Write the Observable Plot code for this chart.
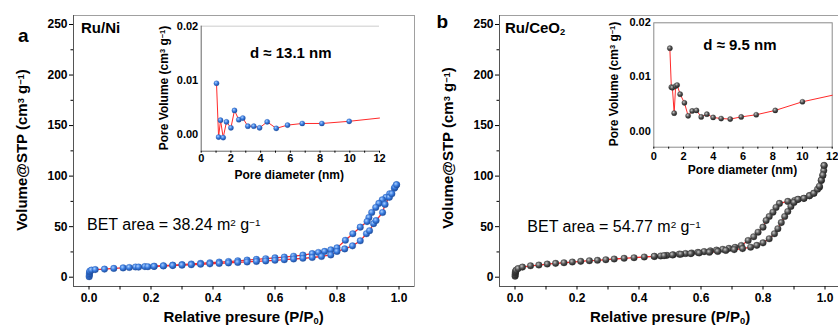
<!DOCTYPE html>
<html><head><meta charset="utf-8">
<script src="https://cdn.jsdelivr.net/npm/d3@7"></script>
<script src="https://cdn.jsdelivr.net/npm/@observablehq/plot@0.6"></script>
<style>
html,body{margin:0;padding:0;background:#fff;overflow:hidden;}
#root{position:relative;width:838px;height:327px;overflow:hidden;background:#fff;font-family:"Liberation Sans",Arial,sans-serif;}
#root > svg{position:absolute;}
</style></head><body><div id="root"></div>
<script>
// ---------- data ----------
const ruNiAdsP = [0.0005,0.001,0.0015,0.002,0.003,0.008,0.02,0.05,0.08,0.11,0.13,0.16,0.19,0.21,0.24,0.27,0.30,0.33,0.36,0.39,0.42,0.45,0.48,0.51,0.54,0.57,0.60,0.63,0.66,0.69,0.72,0.75,0.78,0.80,0.825,0.85,0.875,0.895,0.905,0.918,0.926,0.947,0.955,0.969,0.977,0.987,0.992];
const ruNiAdsV = [0.5,2,3.5,5,6,7,7.5,8,8.7,9.2,9.6,10,10.4,10.7,11.1,11.5,11.9,12.3,12.8,13.2,13.6,14.1,14.6,15.1,15.6,16.1,16.7,17.3,18,18.7,19.5,20.5,22,25.5,28,31,36,43,46,53,56,64,72,79,82.5,89,91.5];
const ruNiDesP = [0.992,0.985,0.97,0.958,0.946,0.935,0.925,0.912,0.903,0.897,0.875,0.851,0.827,0.80,0.78,0.76,0.74,0.72,0.69,0.66,0.63,0.60,0.57,0.54,0.51,0.48,0.45,0.42,0.39,0.36,0.33,0.30,0.27,0.24,0.21,0.18,0.15];
const ruNiDesV = [91.5,88,82.5,79,76.5,73,69,64,59,55,49.5,43,36.5,29,27,25.5,24.5,23.3,21.8,20.8,19.9,19.1,18.3,17.6,16.9,16.2,15.5,14.9,14.3,13.7,13.1,12.5,11.9,11.4,10.9,10.5,10.1];

const ceAdsP = [0.0003,0.0006,0.001,0.0015,0.002,0.004,0.01,0.024,0.05,0.077,0.104,0.131,0.158,0.185,0.212,0.24,0.266,0.293,0.32,0.352,0.384,0.417,0.449,0.481,0.508,0.535,0.567,0.594,0.627,0.654,0.68,0.707,0.734,0.76,0.78,0.80,0.82,0.837,0.848,0.859,0.87,0.88,0.89,0.90,0.913,0.932,0.95,0.964,0.976,0.982,0.988,0.993,0.997];
const ceAdsV = [1,2.5,4,5,6,7,8.5,10,11.3,12,13,13.7,14.3,15,15.7,16.3,16.7,17.3,18,18.7,19.3,20,20.7,21.3,22,22.7,23.3,24,24.7,25.5,26.5,27.3,28.3,29.7,31.5,34,38,43,48,54,60,65,70,74,77,78,80.5,83,87,90,96,101,110.5];
const ceDesP = [0.997,0.996,0.993,0.988,0.982,0.964,0.95,0.932,0.913,0.902,0.88,0.853,0.842,0.832,0.82,0.81,0.80,0.784,0.77,0.752,0.73,0.71,0.69,0.67,0.65,0.63,0.61,0.59,0.57,0.55,0.53,0.51,0.49,0.47,0.45];
const ceDesV = [110.5,105.5,100.6,95.6,89,83,80.8,78,77,75.8,75,73,69,64.3,60,56,49.5,44.5,40,36.3,31.4,29.5,28.5,27.6,26.8,26,25.3,24.6,24,23.4,22.8,22.2,21.6,21,20.5];

const ruNiPoreD = [1.03,1.17,1.3,1.48,1.7,2.0,2.24,2.53,2.8,3.14,3.54,3.93,4.44,5.05,5.81,6.8,8.12,9.96,12];
const ruNiPoreV = [0.0095,-0.0004,0.0027,-0.0005,0.0024,0.0013,0.0045,0.0028,0.0031,0.0016,0.0016,0.0013,0.0024,0.0012,0.0018,0.0021,0.0021,0.0025,0.0031];
const cePoreD = [1.08,1.18,1.25,1.37,1.47,1.57,1.77,2.06,2.31,2.58,2.87,3.19,3.57,3.99,4.53,5.14,5.88,6.89,8.17,10.0,12];
const cePoreV = [0.0153,0.0081,0.0080,0.0033,0.0083,0.0085,0.0068,0.0052,0.0028,0.0037,0.0038,0.0026,0.0031,0.0025,0.0023,0.0022,0.0026,0.0030,0.0038,0.0054,0.0066];

// ticks
const mainXMajor = [0,0.2,0.4,0.6,0.8,1.0];
const mainXMinor = [0.1,0.3,0.5,0.7,0.9];
const mainYMajor = [0,50,100,150,200,250];
const mainYMinor = [25,75,125,175,225];
const insetXMajor = [0,2,4,6,8,10,12];
const insetXMinor = [1,3,5,7,9,11];
const insetYMajor = [0,0.01,0.02];

// ---------- helpers ----------
const FONT = '"Liberation Sans", Arial, sans-serif';
const toRows = (xs, ys) => xs.map((x, i) => ({x, y: ys[i]}));
const root = document.getElementById("root");

// gradient defs (sphere look)
const defsSvg = d3.select(root).append("svg").attr("width", 0).attr("height", 0).style("position","absolute");
const defs = defsSvg.append("defs");
function ball(id, c0, c1, c2) {
  const g = defs.append("radialGradient").attr("id", id).attr("cx","38%").attr("cy","35%").attr("r","65%");
  g.append("stop").attr("offset","0%").attr("stop-color", c0);
  g.append("stop").attr("offset","50%").attr("stop-color", c1);
  g.append("stop").attr("offset","100%").attr("stop-color", c2);
}
ball("blueBall", "#a9d0ff", "#3d7fe3", "#1c4c9c");
ball("grayBall", "#c8c8c8", "#585858", "#222222");

const mainXDomain = [-0.05, 1.05];
const mainYDomain = [-9.2, 258.9];
const insetXDomain = [0, 12];
const insetYDomain = [-0.003, 0.02];

function mainPanel(ads, des, fillId, strokeC, left) {
  const svg = Plot.plot({
    width: 420, height: 327,
    marginLeft: 73, marginRight: 6, marginTop: 15, marginBottom: 41,
    x: {domain: mainXDomain},
    y: {domain: mainYDomain},
    style: {background: "transparent", overflow: "visible", fontFamily: FONT, fontSize: "12px", fontWeight: "bold", color: "#000"},
    marks: [
      Plot.frame({stroke: "#a0a0a0"}),
      Plot.ruleX([mainXDomain[0]], {stroke: "#555"}),
      Plot.ruleY([mainYDomain[0]], {stroke: "#555"}),
      Plot.axisX(mainXMinor, {tickSize: 3.5, tickFormat: () => "", label: null}),
      Plot.axisX(mainXMajor, {tickSize: 3.5, tickPadding: 3, tickFormat: d3.format(".1f"), label: null}),
      Plot.axisY(mainYMinor, {tickSize: 2.5, tickFormat: () => "", label: null}),
      Plot.axisY(mainYMajor, {tickSize: 4, tickPadding: 2, label: null}),
      Plot.line(ads, {x: "x", y: "y", stroke: "#ff2a2a", strokeWidth: 1.3}),
      Plot.line(des, {x: "x", y: "y", stroke: "#ff2a2a", strokeWidth: 1.3}),
      Plot.dot(des, {x: "x", y: "y", r: 3.3, fill: `url(#${fillId})`, stroke: strokeC, strokeWidth: 0.3}),
      Plot.dot(ads, {x: "x", y: "y", r: 3.3, fill: `url(#${fillId})`, stroke: strokeC, strokeWidth: 0.3})
    ]
  });
  svg.style.left = left + "px";
  svg.style.top = "0px";
  root.appendChild(svg);
}

function insetPanel(rows, fillId, strokeC, opts) {
  const dotsRows = rows.filter(d => d.x < insetXDomain[1]);
  const frameMarks = opts.fullFrame
    ? [Plot.frame({stroke: "#8a8a8a"})]
    : [Plot.ruleY([insetYDomain[1]], {stroke: "#dddddd", strokeWidth: 1.5}),
       Plot.ruleX([insetXDomain[0]], {stroke: "#666"}),
       Plot.ruleY([insetYDomain[0]], {stroke: "#666"})];
  const svg = Plot.plot({
    width: opts.width, height: 200,
    marginLeft: opts.ml, marginRight: opts.mr, marginTop: opts.mt, marginBottom: 200 - opts.bottom,
    x: {domain: insetXDomain},
    y: {domain: insetYDomain},
    style: {background: "transparent", overflow: "visible", fontFamily: FONT, fontSize: "11px", fontWeight: "bold", color: "#000"},
    marks: [
      ...frameMarks,
      Plot.axisX(insetXMinor, {tickSize: 2, tickFormat: () => "", label: null}),
      Plot.axisX(insetXMajor, {tickSize: 2, tickPadding: opts.xpad, label: null}),
      Plot.axisY(insetYMajor, {tickSize: 0, tickPadding: 3, tickFormat: d3.format(".2f"), label: null}),
      Plot.line(rows, {x: "x", y: "y", stroke: "#ff2a2a", strokeWidth: 1}),
      Plot.dot(dotsRows, {x: "x", y: "y", r: 2.6, fill: `url(#${fillId})`, stroke: strokeC, strokeWidth: 0.3})
    ]
  });
  svg.style.left = opts.left + "px";
  svg.style.top = "0px";
  root.appendChild(svg);
}

mainPanel(toRows(ruNiAdsP, ruNiAdsV), toRows(ruNiDesP, ruNiDesV), "blueBall", "#2a5db0", 0);
mainPanel(toRows(ceAdsP, ceAdsV), toRows(ceDesP, ceDesV), "grayBall", "#333", 426.3);
insetPanel(toRows(ruNiPoreD, ruNiPoreV), "blueBall", "#2a5db0", {left: 150, width: 232, ml: 50.7, mr: 3, mt: 25.7, bottom: 150.7, xpad: 1, fullFrame: false});
insetPanel(toRows(cePoreD, cePoreV), "grayBall", "#333", {left: 600, width: 236, ml: 53.3, mr: 4.3, mt: 22.3, bottom: 146.7, xpad: 3, fullFrame: true});

// ---------- text overlay ----------
const ov = d3.select(root).append("svg").attr("width", 838).attr("height", 327)
  .style("position","absolute").style("left","0px").style("top","0px")
  .style("font-family", FONT);
function addText({x, y, size, weight = "bold", anchor = "start", rotate = false, parts}) {
  const t = ov.append("text").attr("font-size", size).attr("font-weight", weight)
    .attr("text-anchor", anchor).attr("fill", "#000");
  if (rotate) t.attr("transform", `translate(${x},${y}) rotate(-90)`);
  else t.attr("x", x).attr("y", y);
  for (const p of parts) {
    if (typeof p === "string") t.append("tspan").text(p);
    else t.append("tspan").attr("baseline-shift", p.sup ? "38%" : "-22%").attr("font-size", size * 0.62).text(p.t);
  }
}
const volTitle = ["Volume@STP (cm", {t: "3", sup: true}, " g", {t: "\u22121", sup: true}, ")"];
const presTitle = ["Relative presure (P/P", {t: "0"}, ")"];
const poreVolTitle = ["Pore Volume (cm", {t: "3", sup: true}, " g", {t: "\u22121", sup: true}, ")"];
const poreDiamTitle = ["Pore diameter (nm)"];

addText({x: 18, y: 41.7, size: 19, parts: ["a"]});
addText({x: 436.5, y: 28.3, size: 19, parts: ["b"]});
addText({x: 81, y: 33.3, size: 15, parts: ["Ru/Ni"]});
addText({x: 505, y: 33.3, size: 15, parts: ["Ru/CeO", {t: "2"}]});
addText({x: 26.7, y: 150, size: 15, anchor: "middle", rotate: true, parts: volTitle});
addText({x: 453.3, y: 148, size: 15, anchor: "middle", rotate: true, parts: volTitle});
addText({x: 243.5, y: 321.5, size: 15, anchor: "middle", parts: presTitle});
addText({x: 670, y: 321.5, size: 15, anchor: "middle", parts: presTitle});
addText({x: 87, y: 230, size: 16, weight: "normal", parts: ["BET area = 38.24 m", {t: "2", sup: true}, " g", {t: "\u22121", sup: true}]});
addText({x: 527.3, y: 231.7, size: 16, weight: "normal", parts: ["BET area = 54.77 m", {t: "2", sup: true}, " g", {t: "\u22121", sup: true}]});
addText({x: 250, y: 58.3, size: 15, parts: ["d \u2248 13.1 nm"]});
addText({x: 703.3, y: 50, size: 15, parts: ["d \u2248 9.5 nm"]});
addText({x: 167.5, y: 88, size: 12, anchor: "middle", rotate: true, parts: poreVolTitle});
addText({x: 618.3, y: 84, size: 12, anchor: "middle", rotate: true, parts: poreVolTitle});
addText({x: 289.2, y: 178.5, size: 12, anchor: "middle", parts: poreDiamTitle});
addText({x: 742.5, y: 173.5, size: 12, anchor: "middle", parts: poreDiamTitle});
</script></body></html>
